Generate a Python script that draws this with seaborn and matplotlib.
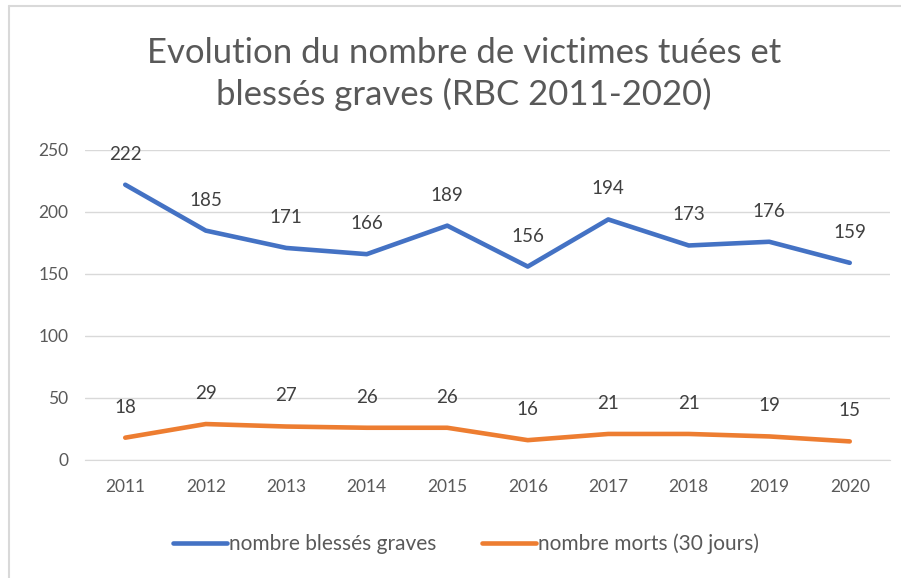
import pandas as pd
import matplotlib.pyplot as plt
import seaborn as sns
from matplotlib.lines import Line2D

# Values
years = [2011, 2012, 2013, 2014, 2015, 2016, 2017, 2018, 2019, 2020]
blesses = [222, 185, 171, 166, 189, 156, 194, 173, 176, 159]
morts = [18, 29, 27, 26, 26, 16, 21, 21, 19, 15]
series_names = ['nombre blessés graves', 'nombre morts (30 jours)']
colors = ['#4472C4', '#ED7D31']

df = pd.DataFrame({'annee': [str(y) for y in years] * 2,
                   'idx': list(range(len(years))) * 2,
                   'valeur': blesses + morts,
                   'serie': [series_names[0]] * len(years) + [series_names[1]] * len(years)})

sns.set_style('white')
plt.rcParams['font.family'] = ['Lato', 'DejaVu Sans']

fig = plt.figure(figsize=(9.01, 5.78), dpi=100)
ax = fig.add_axes([85 / 901, 1 - 460 / 578, 805 / 901, 310 / 578])

sns.lineplot(data=df, x='idx', y='valeur', hue='serie', palette=colors,
             linewidth=3.3, ax=ax, legend=False)
for line in ax.lines:
    line.set_solid_capstyle('round')
    line.set_solid_joinstyle('round')

# data labels above points
for vals in [blesses, morts]:
    for i, v in enumerate(vals):
        ax.annotate(str(v), (i, v), xytext=(0, 22), textcoords='offset points',
                    ha='center', va='center', fontsize=13.5, color='#404040')

ax.set_xlim(-0.5, len(years) - 0.5)
ax.set_ylim(0, 250)
ax.set_yticks(range(0, 251, 50))
ax.set_xticks(range(len(years)))
ax.set_xticklabels([str(y) for y in years])
ax.yaxis.grid(True, color='#D9D9D9', linewidth=1)
ax.set_axisbelow(True)
for s in ax.spines.values():
    s.set_visible(False)
ax.spines['bottom'].set_visible(True)
ax.spines['bottom'].set_color('#D9D9D9')
ax.tick_params(axis='both', length=0, labelsize=12.5, labelcolor='#595959')
ax.tick_params(axis='x', pad=14)
ax.tick_params(axis='y', pad=12)
ax.set_xlabel('')
ax.set_ylabel('')

fig.text(464 / 901, 1 - 74 / 578, 'Evolution du nombre de victimes tuées et\nblessés graves (RBC 2011-2020)',
         ha='center', va='center', fontsize=25, color='#595959', linespacing=1.35)

handles = [Line2D([0], [0], color=c, linewidth=3.3, solid_capstyle='round') for c in colors]
fig.legend(handles, series_names, loc='center', bbox_to_anchor=(466 / 901, 1 - 544 / 578),
           ncol=2, frameon=False, fontsize=15, labelcolor='#595959',
           handlelength=2.6, handletextpad=0.1, columnspacing=2.2)

# chart frame (only top and left edges visible)
fig.add_artist(Line2D([8.5 / 901, 8.5 / 901], [0, 1 - 6 / 578], color='#D9D9D9', linewidth=1.5))
fig.add_artist(Line2D([8.5 / 901, 1], [1 - 6 / 578, 1 - 6 / 578], color='#D9D9D9', linewidth=1.5))

fig.savefig('out.png', dpi=100)
